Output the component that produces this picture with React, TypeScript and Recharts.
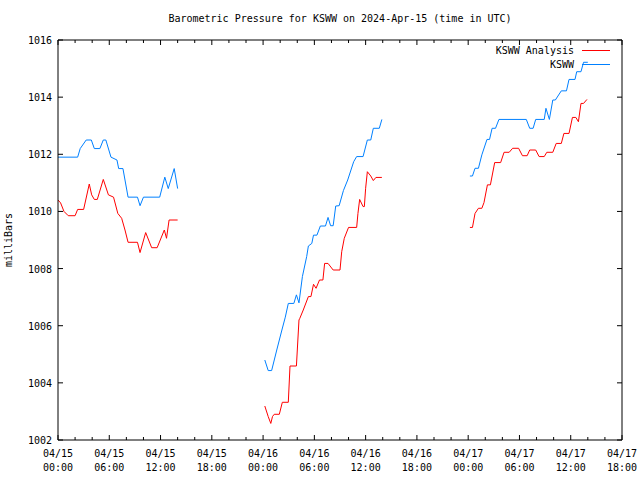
import React from 'react';
import { LineChart, Line, XAxis, YAxis, Legend } from 'recharts';

// Hours since 04/15 00:00 UTC and pressure (mb)
const blueT1 = [0, 2.3, 2.6, 3.3, 3.9, 4.25, 4.9, 5.3, 5.6, 6.2, 6.9, 7.1, 7.6, 8.2, 9.3, 9.6, 10.0, 11.9, 12.5, 12.9, 13.6, 14.0];
const blueV1 = [1011.9, 1011.9, 1012.2, 1012.5, 1012.5, 1012.2, 1012.2, 1012.5, 1012.5, 1011.9, 1011.8, 1011.5, 1011.5, 1010.5, 1010.5, 1010.2, 1010.5, 1010.5, 1011.2, 1010.8, 1011.5, 1010.8];
const redT1 = [0, 0.3, 0.7, 1.2, 2.0, 2.3, 3.0, 3.66, 3.94, 4.25, 4.6, 5.3, 5.9, 6.5, 7.0, 7.45, 7.84, 8.2, 9.3, 9.6, 10.26, 10.96, 11.6, 12.44, 12.7, 13.0, 14.0];
const redV1 = [1010.4, 1010.3, 1010.0, 1009.85, 1009.85, 1010.07, 1010.07, 1010.96, 1010.58, 1010.42, 1010.42, 1011.12, 1010.58, 1010.5, 1009.93, 1009.76, 1009.35, 1008.92, 1008.92, 1008.56, 1009.26, 1008.73, 1008.73, 1009.35, 1009.06, 1009.7, 1009.7];

const blueT2 = [24.2, 24.6, 25.0, 25.6, 26.2, 26.6, 26.95, 27.6, 27.9, 28.2, 28.6, 29.1, 29.3, 29.7, 29.9, 30.3, 30.7, 31.3, 31.6, 31.9, 32.2, 32.5, 32.9, 33.4, 33.9, 34.6, 34.95, 35.7, 36.2, 36.6, 36.9, 37.6, 37.9];
const blueV2 = [1004.8, 1004.43, 1004.43, 1005.15, 1005.85, 1006.3, 1006.78, 1006.78, 1007.08, 1006.8, 1007.72, 1008.42, 1008.79, 1008.88, 1009.17, 1009.17, 1009.49, 1009.49, 1009.79, 1009.5, 1009.5, 1010.19, 1010.2, 1010.73, 1011.1, 1011.74, 1011.92, 1011.92, 1012.5, 1012.5, 1012.91, 1012.91, 1013.22];
const redT2 = [24.2, 24.6, 24.9, 25.1, 25.3, 25.9, 26.25, 26.95, 27.15, 27.9, 28.2, 28.3, 28.7, 29.3, 29.6, 29.9, 30.2, 30.6, 31.0, 31.2, 31.6, 32.2, 33.0, 33.2, 33.5, 34.0, 34.95, 35.1, 35.3, 35.7, 35.85, 36.0, 36.2, 36.6, 36.9, 37.2, 37.9];
const redV2 = [1003.19, 1002.82, 1002.58, 1002.82, 1002.9, 1002.9, 1003.32, 1003.32, 1004.59, 1004.59, 1006.2, 1006.26, 1006.55, 1007.02, 1007.02, 1007.45, 1007.31, 1007.6, 1007.6, 1008.18, 1008.18, 1007.95, 1007.95, 1008.59, 1009.06, 1009.44, 1009.44, 1009.93, 1010.42, 1010.17, 1010.17, 1010.81, 1011.39, 1011.24, 1011.08, 1011.19, 1011.19];

const blueT3 = [48.2, 48.5, 48.8, 49.2, 49.6, 50.2, 50.5, 50.8, 51.2, 51.6, 54.8, 55.2, 55.6, 55.9, 56.9, 57.1, 57.5, 57.9, 58.2, 58.9, 59.5, 59.8, 60.5, 60.7, 61.2, 61.5, 62.0];
const blueV3 = [1011.24, 1011.24, 1011.51, 1011.51, 1011.98, 1012.52, 1012.52, 1012.91, 1012.91, 1013.22, 1013.22, 1012.91, 1012.91, 1013.22, 1013.22, 1013.61, 1013.22, 1013.9, 1013.9, 1014.22, 1014.22, 1014.62, 1014.62, 1014.89, 1014.89, 1015.22, 1015.22];
const redT3 = [48.2, 48.5, 48.8, 49.2, 49.6, 49.85, 50.25, 50.6, 51.1, 51.8, 52.2, 52.8, 53.2, 53.9, 54.35, 54.9, 55.2, 55.9, 56.3, 56.9, 57.2, 57.9, 58.3, 58.9, 59.2, 59.8, 60.2, 60.6, 60.9, 61.2, 61.5, 61.9];
const redV3 = [1009.44, 1009.44, 1009.93, 1010.11, 1010.11, 1010.31, 1010.93, 1010.93, 1011.71, 1011.71, 1012.07, 1012.07, 1012.21, 1012.21, 1011.95, 1011.95, 1012.15, 1012.15, 1011.92, 1011.92, 1012.07, 1012.07, 1012.38, 1012.38, 1012.73, 1012.73, 1013.29, 1013.29, 1013.14, 1013.78, 1013.78, 1013.92];

const xTicks = Array.from({ length: 34 }, (_, i) => i * 2);
const yTicks = [1002, 1004, 1006, 1008, 1010, 1012, 1014, 1016];
const seriesNames = ['KSWW Analysis', 'KSWW'];
const seriesColors = ['#ff0000', '#0080ff'];
const title = 'Barometric Pressure for KSWW on 2024-Apr-15 (time in UTC)';
const yLabel = 'milliBars';

const FONT = '"DejaVu Sans Mono", monospace';

function build(segs: [number[], number[]][]) {
  const out: { t: number; v: number | null }[] = [];
  segs.forEach(([ts, vs], si) => {
    ts.forEach((t, i) => out.push({ t, v: vs[i] }));
    if (si < segs.length - 1) out.push({ t: ts[ts.length - 1] + 0.05, v: null });
  });
  return out;
}

const redData = build([[redT1, redV1], [redT2, redV2], [redT3, redV3]]);
const blueData = build([[blueT1, blueV1], [blueT2, blueV2], [blueT3, blueV3]]);

const pad = (n: number) => (n < 10 ? '0' + n : '' + n);

const BottomTick = (props: any) => {
  const { x, y, payload } = props;
  const h = payload.value;
  const major = h % 6 === 0;
  const day = 15 + Math.floor(h / 24);
  const hr = h % 24;
  return (
    <g>
      <line x1={x} y1={y} x2={x} y2={y - (major ? 5 : 3)} stroke="#000" />
      {major && (
        <text x={x} y={y + 17} textAnchor="middle" fontFamily={FONT} fontSize={10} fill="#000">
          <tspan x={x}>{`04/${day}`}</tspan>
          <tspan x={x} dy={14}>{`${pad(hr)}:00`}</tspan>
        </text>
      )}
    </g>
  );
};

const TopTick = (props: any) => {
  const { x, y, payload } = props;
  const major = payload.value % 6 === 0;
  return <line x1={x} y1={y} x2={x} y2={y + (major ? 5 : 3)} stroke="#000" />;
};

const LeftTick = (props: any) => {
  const { x, y, payload } = props;
  return (
    <g>
      <line x1={x} y1={y} x2={x + 5} y2={y} stroke="#000" />
      <text x={x - 6} y={y + 4} textAnchor="end" fontFamily={FONT} fontSize={10} fill="#000">
        {payload.value}
      </text>
    </g>
  );
};

const RightTick = (props: any) => {
  const { x, y } = props;
  return <line x1={x} y1={y} x2={x - 5} y2={y} stroke="#000" />;
};

const LegendContent = () => (
  <div style={{ fontFamily: FONT, fontSize: 10 }}>
    {seriesNames.map((n, i) => (
      <div key={n} style={{ display: 'flex', justifyContent: 'flex-end', alignItems: 'center', height: 13.5 }}>
        <span style={{ color: '#000' }}>{n}</span>
        <span style={{ display: 'inline-block', width: 28, height: 1, marginLeft: 8, background: seriesColors[i] }} />
      </div>
    ))}
  </div>
);

export default function App() {
  return (
    <div style={{ position: 'absolute', left: 0, top: 0, width: 640, height: 480, background: '#fff' }}>
      <div
        style={{
          position: 'absolute',
          left: 0,
          width: 680,
          top: 13,
          textAlign: 'center',
          fontFamily: FONT,
          fontSize: 10,
          whiteSpace: 'pre',
          color: '#000',
        }}
      >
        {title}
      </div>
      <div
        style={{
          position: 'absolute',
          left: 10 - 40,
          top: 240 - 7,
          width: 80,
          height: 14,
          textAlign: 'center',
          transform: 'rotate(-90deg)',
          fontFamily: FONT,
          fontSize: 10,
          color: '#000',
        }}
      >
        {yLabel}
      </div>
      <LineChart width={640} height={480} margin={{ top: 0, right: 0, bottom: 0, left: 0 }}>
        <XAxis
          xAxisId={0}
          dataKey="t"
          type="number"
          domain={[0, 66]}
          ticks={xTicks}
          allowDataOverflow
          height={40}
          tickSize={0}
          tickMargin={0}
          tickLine={false}
          tick={<BottomTick />}
          axisLine={{ stroke: '#000' }}
          interval={0}
        />
        <XAxis
          xAxisId="top"
          orientation="top"
          dataKey="t"
          type="number"
          domain={[0, 66]}
          ticks={xTicks}
          allowDataOverflow
          height={40}
          tickSize={0}
          tickMargin={0}
          tickLine={false}
          tick={<TopTick />}
          axisLine={{ stroke: '#000' }}
          interval={0}
        />
        <YAxis
          yAxisId={0}
          type="number"
          domain={[1002, 1016]}
          ticks={yTicks}
          allowDataOverflow
          width={58}
          tickSize={0}
          tickMargin={0}
          tickLine={false}
          tick={<LeftTick />}
          axisLine={{ stroke: '#000' }}
          interval={0}
        />
        <YAxis
          yAxisId="right"
          orientation="right"
          type="number"
          domain={[1002, 1016]}
          ticks={yTicks}
          allowDataOverflow
          width={18}
          tickSize={0}
          tickMargin={0}
          tickLine={false}
          tick={<RightTick />}
          axisLine={{ stroke: '#000' }}
          interval={0}
        />
        <Legend
          layout="horizontal"
          verticalAlign="middle"
          align="center"
          content={<LegendContent />}
          wrapperStyle={{ position: 'absolute', left: 432, top: 44, width: 178, height: 28 }}
        />
        <Line
          name={seriesNames[0]}
          data={redData}
          dataKey="v"
          xAxisId={0}
          yAxisId={0}
          stroke={seriesColors[0]}
          strokeWidth={1}
          dot={false}
          connectNulls={false}
          isAnimationActive={false}
          type="linear"
        />
        <Line
          name={seriesNames[1]}
          data={blueData}
          dataKey="v"
          xAxisId={0}
          yAxisId={0}
          stroke={seriesColors[1]}
          strokeWidth={1}
          dot={false}
          connectNulls={false}
          isAnimationActive={false}
          type="linear"
        />
      </LineChart>
    </div>
  );
}
